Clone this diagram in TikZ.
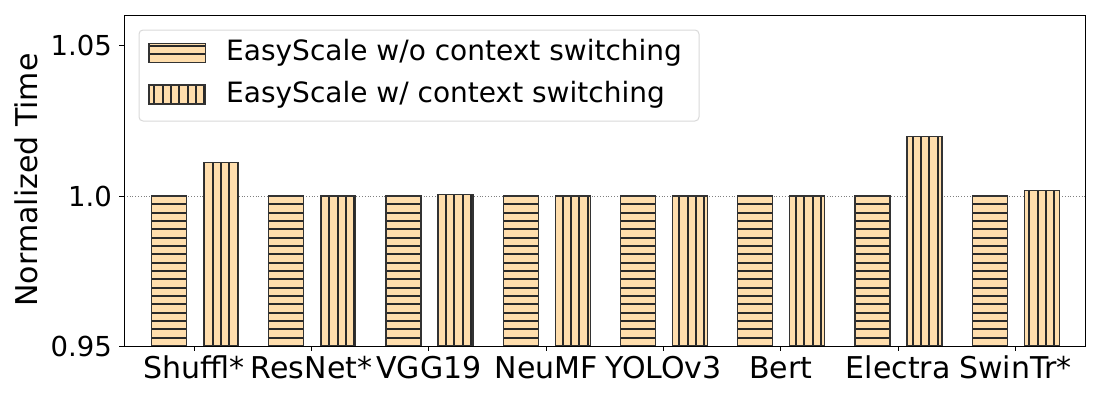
\documentclass[tikz,border=0pt]{standalone}
\usepackage{fontspec}
\setmainfont{DejaVu Sans}
\definecolor{barfill}{HTML}{FFDEAD}
\definecolor{baredge}{HTML}{333333}
\definecolor{hatchcol}{HTML}{2A2A2A}
\definecolor{legframe}{HTML}{D9D9D9}

\begin{document}
\begin{tikzpicture}[x=1pt,y=-1pt,
	barbox/.style={draw=baredge,line width=1.3pt},
	hatchline/.style={draw=hatchcol,line width=1.9pt},
	ticklabel/.style={inner sep=0pt,font=\fontsize{27.5}{30}\selectfont},
	catlabel/.style={inner sep=0pt,anchor=base,font=\fontsize{30}{34}\selectfont},
	legtext/.style={inner sep=0pt,anchor=west,font=\fontsize{28}{30}\selectfont}]
	\useasboundingbox (0,0) rectangle (1100,400);
	% reference line at 1.0
	\draw [gray,dotted,line width=0.8pt] (124,196) -- (1085,196);
	% bars
	\foreach \name/\val [count=\k from 0] in {Shuffl*/1.0112,ResNet*/1.0,VGG19/1.0006,NeuMF/1.0,YOLOv3/1.0,Bert/1.0,Electra/1.0198,SwinTr*/1.0019} {
		\pgfmathsetmacro\cx{194.3+117.3*\k}
		\pgfmathsetmacro\ytop{196-(\val-1)*3010}
		\pgfmathtruncatemacro\nstart{floor((\cx+9-154.4)/8.333)}
		\pgfmathtruncatemacro\nend{\nstart+5}
		% w/o context switching
		\begin{scope}
			\clip (\cx-43,346) rectangle (\cx-8,196);
			\fill [barfill] (\cx-43,346) rectangle (\cx-8,196);
			\foreach \n in {0,...,17} {
				\pgfmathsetmacro\hy{round(204.3+8.333*\n)}
				\draw [hatchline] (\cx-45,\hy) -- (\cx-6,\hy);
			}
		\end{scope}
		\draw [barbox] (\cx-43,346) rectangle (\cx-8,196);
		% w/ context switching
		\begin{scope}
			\clip (\cx+9,346) rectangle (\cx+44,\ytop);
			\fill [barfill] (\cx+9,346) rectangle (\cx+44,\ytop);
			\foreach \n in {\nstart,...,\nend} {
				\pgfmathsetmacro\vx{round(154.4+8.333*\n)}
				\draw [hatchline] (\vx,\ytop-2) -- (\vx,348);
			}
		\end{scope}
		\draw [barbox] (\cx+9,346) rectangle (\cx+44,\ytop);
		% category tick and label
		\draw [line width=1pt] (\cx,346) -- (\cx,351);
		\node [catlabel] (cat\k) at (\cx,378.5) {\name};
	}
	% axes frame
	\draw [line width=1pt] (124,15) rectangle (1085,346);
	\foreach \yv/\lab [count=\i] in {346/0.95,196/1.0,45/1.05} {
		\draw [line width=1pt] (119,\yv) -- (124,\yv);
		\node [ticklabel,anchor=east] (ytick\i) at (112,\yv) {\lab};
	}
	\node [inner sep=0pt,anchor=base,rotate=90,font=\fontsize{30}{34}\selectfont] (ylabel) at (37.5,180) {Normalized Time};
	% legend
	\draw [legframe,fill=white,rounded corners=4pt,line width=1pt] (139,30) rectangle (699,121);
	\begin{scope}
		\clip (149,43.3) rectangle (205.7,62.3);
		\fill [barfill] (149,43.3) rectangle (205.7,62.3);
		\foreach \hy in {46,54}
			\draw [hatchline] (147,\hy) -- (208,\hy);
	\end{scope}
	\draw [barbox] (149,43.3) rectangle (205.7,62.3);
	\begin{scope}
		\clip (149,85) rectangle (205.7,104);
		\fill [barfill] (149,85) rectangle (205.7,104);
		\foreach \n in {0,...,6} {
			\pgfmathsetmacro\vx{round(154.4+8.333*\n)}
			\draw [hatchline] (\vx,83) -- (\vx,106);
		}
	\end{scope}
	\draw [barbox] (149,85) rectangle (205.7,104);
	\node [legtext] (legwo) at (226,52.8) {EasyScale w/o context switching};
	\node [legtext] (legw) at (226,94.5) {EasyScale w/ context switching};
\end{tikzpicture}
\end{document}
